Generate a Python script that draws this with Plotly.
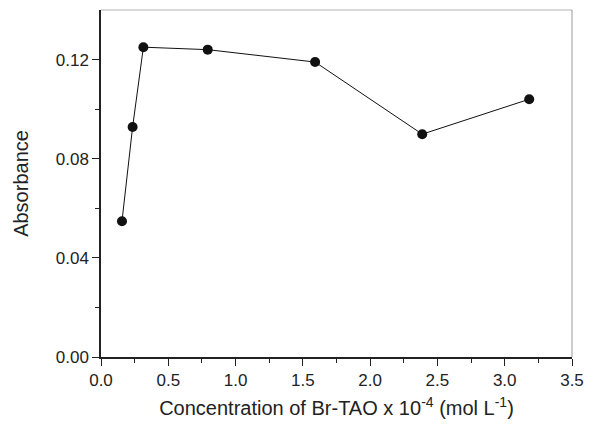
import plotly.graph_objects as go

conc = [0.156, 0.235, 0.315, 0.793, 1.591, 2.387, 3.182]
absorbance = [0.0548, 0.0928, 0.1250, 0.1240, 0.1190, 0.0899, 0.1040]

x_ticks = [0.0, 0.5, 1.0, 1.5, 2.0, 2.5, 3.0, 3.5]
x_ticklabels = ["0.0", "0.5", "1.0", "1.5", "2.0", "2.5", "3.0", "3.5"]
y_ticks = [0.00, 0.04, 0.08, 0.12]
y_ticklabels = ["0.00", "0.04", "0.08", "0.12"]

font = "Liberation Sans, Arial, sans-serif"

fig = go.Figure()
fig.add_trace(go.Scatter(
    x=conc, y=absorbance, mode="lines+markers",
    line=dict(color="#111111", width=1),
    marker=dict(color="#111111", size=10),
    showlegend=False,
))

fig.update_layout(
    width=581, height=413,
    margin=dict(l=93, r=17, t=2, b=64),
    paper_bgcolor="white", plot_bgcolor="white",
    font=dict(family=font, size=17, color="#222222"),
    xaxis=dict(
        range=[0, 3.5], tickvals=x_ticks, ticktext=x_ticklabels,
        showgrid=False, zeroline=False,
        showline=True, linecolor="#222222", linewidth=1.5,
        ticks="outside", ticklen=7, tickwidth=1.2, tickcolor="#222222",
        minor=dict(ticks="outside", ticklen=4, dtick=0.25, tickcolor="#222222"),
        title=dict(text="Concentration of Br-TAO x 10<sup>-4</sup> (mol L<sup>-1</sup>)",
                   font=dict(size=20), standoff=12),
        automargin=False,
    ),
    yaxis=dict(
        range=[0, 0.14], tickvals=y_ticks, ticktext=y_ticklabels,
        showgrid=False, zeroline=False,
        showline=True, linecolor="#222222", linewidth=1.5,
        ticks="outside", ticklen=7, tickwidth=1.2, tickcolor="#222222",
        minor=dict(ticks="outside", ticklen=4, tickvals=[0.02, 0.06, 0.10], tickcolor="#222222"),
        title=dict(text="Absorbance", font=dict(size=20), standoff=22),
        automargin=False,
    ),
    shapes=[
        dict(type="line", xref="paper", yref="paper", x0=0, x1=1, y0=1, y1=1,
             line=dict(color="#cccccc", width=1.5)),
        dict(type="line", xref="paper", yref="paper", x0=1, x1=1, y0=0, y1=1,
             line=dict(color="#999999", width=1)),
    ],
)

fig.write_html("out.html")
